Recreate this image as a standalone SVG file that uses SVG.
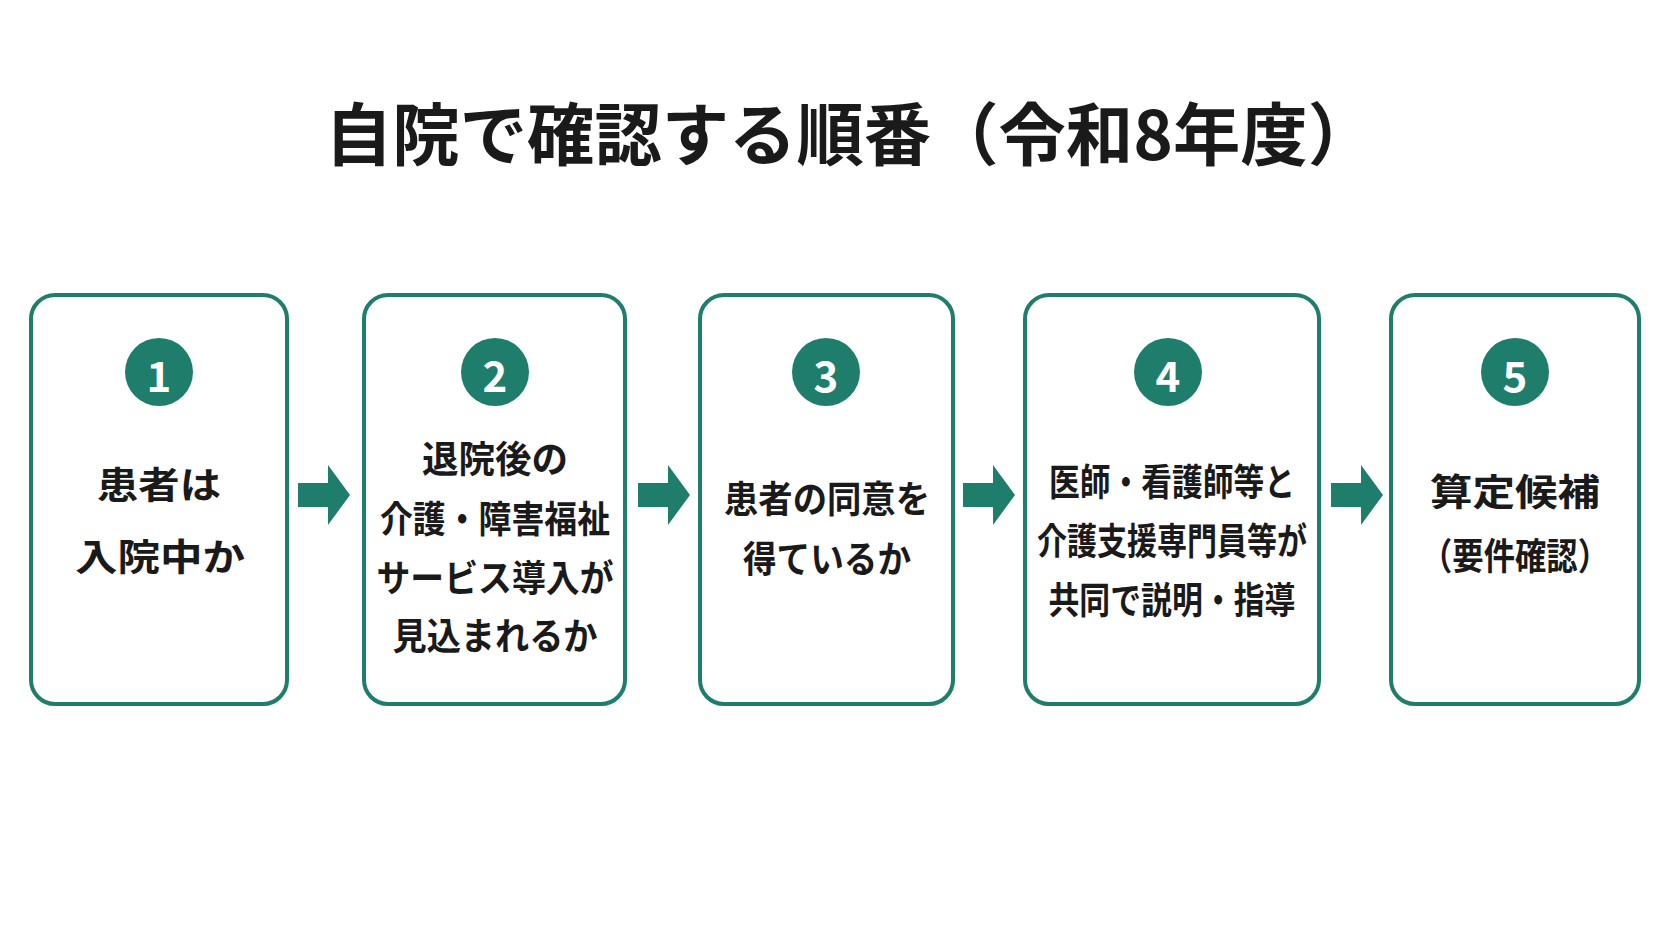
<svg xmlns="http://www.w3.org/2000/svg" width="1672" height="941" viewBox="0 0 1672 941">
<style>
.box{fill:#fff;stroke:#1f7d6b;stroke-width:4}
.num{fill:#1f7d6b}
.nt{fill:#fff;font-family:"Noto Sans CJK JP","Noto Sans",sans-serif;font-weight:700;font-size:42px;text-anchor:middle;dominant-baseline:central}
.t{fill:#1a1a1a;font-family:"Noto Sans CJK JP",sans-serif;font-weight:700;font-size:37px;text-anchor:middle;dominant-baseline:central}
.ar{fill:#1f7d6b}
</style>
<rect width="1672" height="941" fill="#fff"/>
<text x="850" y="130" textLength="1050" lengthAdjust="spacingAndGlyphs" style="fill:#1a1a1a;font-family:'Noto Sans CJK JP',sans-serif;font-weight:700;font-size:68px;text-anchor:middle;dominant-baseline:central">自院で確認する順番（令和8年度）</text>
<g id="n1"><rect class="box" x="31" y="295" width="256" height="409" rx="24"/><circle class="num" cx="159" cy="372" r="34"/><text class="nt" x="159" y="373">1</text><text class="t" x="159" y="483" textLength="124" lengthAdjust="spacingAndGlyphs">患者は</text><text class="t" x="160" y="555" textLength="170" lengthAdjust="spacingAndGlyphs">入院中か</text></g>
<g id="n2"><rect class="box" x="364" y="295" width="261" height="409" rx="24"/><circle class="num" cx="495" cy="372" r="34"/><text class="nt" x="495" y="373">2</text><text class="t" x="495" y="457" textLength="146" lengthAdjust="spacingAndGlyphs">退院後の</text><text class="t" x="495" y="517" textLength="230" lengthAdjust="spacingAndGlyphs">介護・障害福祉</text><text class="t" x="495" y="576" textLength="237" lengthAdjust="spacingAndGlyphs">サービス導入が</text><text class="t" x="495" y="634" textLength="205" lengthAdjust="spacingAndGlyphs">見込まれるか</text></g>
<g id="n3"><rect class="box" x="700" y="295" width="253" height="409" rx="24"/><circle class="num" cx="826" cy="372" r="34"/><text class="nt" x="826" y="373">3</text><text class="t" x="827" y="497" textLength="206" lengthAdjust="spacingAndGlyphs">患者の同意を</text><text class="t" x="827" y="557" textLength="168" lengthAdjust="spacingAndGlyphs">得ているか</text></g>
<g id="n4"><rect class="box" x="1025" y="295" width="294" height="409" rx="24"/><circle class="num" cx="1168" cy="372" r="34"/><text class="nt" x="1168" y="373">4</text><text class="t" x="1172" y="480" textLength="246" lengthAdjust="spacingAndGlyphs">医師・看護師等と</text><text class="t" x="1172" y="539" textLength="270" lengthAdjust="spacingAndGlyphs">介護支援専門員等が</text><text class="t" x="1172" y="598" textLength="247" lengthAdjust="spacingAndGlyphs">共同で説明・指導</text></g>
<g id="n5"><rect class="box" x="1391" y="295" width="248" height="409" rx="24"/><circle class="num" cx="1515" cy="372" r="34"/><text class="nt" x="1515" y="373">5</text><text class="t" x="1515" y="490" textLength="170" lengthAdjust="spacingAndGlyphs">算定候補</text><text class="t" x="1515" y="554" textLength="188" lengthAdjust="spacingAndGlyphs">（要件確認）</text></g>
<g id="connectors">
<path class="ar" d="M298 483h30v-18l22 30-22 30v-18h-30z"/>
<path class="ar" d="M638 483h30v-18l22 30-22 30v-18h-30z"/>
<path class="ar" d="M963 483h30v-18l22 30-22 30v-18h-30z"/>
<path class="ar" d="M1331 483h30v-18l22 30-22 30v-18h-30z"/>
</g>
</svg>
